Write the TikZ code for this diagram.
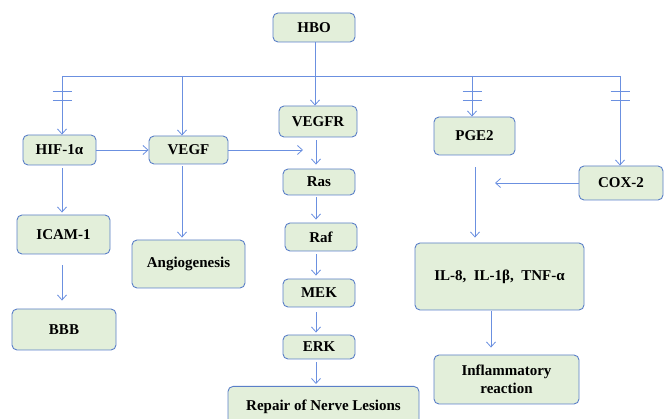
\documentclass[tikz,border=0pt]{standalone}
\usepackage{fontspec}
\setmainfont{Liberation Serif}
\usetikzlibrary{arrows.meta}
\definecolor{boxfill}{HTML}{E3EFDA}
\definecolor{boxdraw}{HTML}{5A7FC8}
\definecolor{linec}{HTML}{6B90E0}
\tikzset{
  box/.style={draw=boxdraw, fill=boxfill, line width=0.9pt, rounded corners=5pt,
    inner sep=0pt, align=center, font=\fontsize{15}{18.5}\selectfont\bfseries},
  conn/.style={draw=linec, line width=0.8pt},
  arr/.style={conn, -{Straight Barb[length=5pt,width=9pt,line width=0.8pt]}},
  bar/.style={draw=linec, line width=0.8pt}
}
\begin{document}
\begin{tikzpicture}[x=1pt,y=-1pt]
\useasboundingbox (0,0) rectangle (664,419);
% nodes
\node[box, minimum width=82pt, minimum height=29pt] (hbo) at (314,27.5) {HBO};
\node[box, minimum width=73pt, minimum height=30pt] (hif) at (59.5,150) {HIF-1α};
\node[box, minimum width=79pt, minimum height=28pt] (vegf) at (188.5,150) {VEGF};
\node[box, minimum width=78pt, minimum height=31pt] (vegfr) at (318,121.5) {VEGFR};
\node[box, minimum width=81pt, minimum height=38pt] (pge) at (474.5,136) {PGE2};
\node[box, minimum width=84pt, minimum height=34pt] (cox) at (621,183) {COX-2};
\node[box, minimum width=72pt, minimum height=26pt] (ras) at (319,182) {Ras};
\node[box, minimum width=93pt, minimum height=39pt] (icam) at (63.5,234.5) {ICAM-1};
\node[box, minimum width=113pt, minimum height=48pt] (angio) at (188.5,264) {Angiogenesis};
\node[box, minimum width=72pt, minimum height=28pt] (raf) at (321,237) {Raf};
\node[box, minimum width=104pt, minimum height=41pt] (bbb) at (64,329.5) {BBB};
\node[box, minimum width=72pt, minimum height=28pt] (mek) at (319,293) {MEK};
\node[box, minimum width=72pt, minimum height=24pt] (erk) at (319,347) {ERK};
\node[box, minimum width=169pt, minimum height=67pt] (il) at (499.5,276.5) {IL-8,\ \ IL-1β,\ \ TNF-α};
\node[box, minimum width=145pt, minimum height=49pt] (infl) at (506.5,379.5) {Inflammatory\\reaction};
\node[box, minimum width=191pt, minimum height=40pt, anchor=north] (rep) at (323.5,386) {Repair of Nerve Lesions};
% junction coordinates
\coordinate (jl) at (62,76);
\coordinate (jv) at (182,76);
\coordinate (jc) at (315,76);
\coordinate (jp) at (472,76);
\coordinate (jr) at (620,76);
\coordinate (vend) at (303,150);
\coordinate (cend) at (495,183);
% trunk
\draw[conn] (hbo.south -| jc) -- (jc);
\draw[conn] (jl) -- (jr);
\draw[arr] (jc) -- (jc |- vegfr.north);
\draw[arr] (jl) -- (jl |- hif.north);
\draw[arr] (jv) -- (jv |- vegf.north);
\draw[arr] (jp) -- (jp |- pge.north);
\draw[arr] (jr) -- (jr |- cox.north);
% inhibition bars
\foreach \xx in {62,472,620}{
  \draw[bar] (\xx-9.5,91) -- (\xx+9.5,91);
  \draw[bar] (\xx-9.5,100) -- (\xx+9.5,100);
}
% horizontal arrows
\draw[arr] (hif.east) -- (vegf.west);
\draw[arr] (vegf.east) -- (vend);
\draw[arr] (cox.west) -- (cend);
% left column
\draw[arr, shorten <=3pt, shorten >=2pt] (hif.south -| jl) -- (jl |- icam.north);
\draw[arr, shorten <=11pt, shorten >=8pt] (icam.south -| jl) -- (jl |- bbb.north);
\draw[arr, shorten <=2pt, shorten >=2pt] (vegf.south -| jv) -- (jv |- angio.north);
% middle column
\coordinate (mc) at (316,0);
\draw[arr, shorten <=3pt, shorten >=4pt] (vegfr.south -| mc) -- (mc |- ras.north);
\draw[arr, shorten <=2pt, shorten >=3pt] (ras.south -| mc) -- (mc |- raf.north);
\draw[arr, shorten <=3pt, shorten >=3pt] (raf.south -| mc) -- (mc |- mek.north);
\draw[arr, shorten <=5pt, shorten >=2pt] (mek.south -| mc) -- (mc |- erk.north);
\draw[arr, shorten <=3pt, shorten >=2pt] (erk.south -| mc) -- (mc |- rep.north);
% right column
\coordinate (pc) at (475,0);
\draw[arr, shorten <=12pt, shorten >=5pt] (pge.south -| pc) -- (pc |- il.north);
\coordinate (ic) at (491,0);
\draw[arr, shorten <=1pt, shorten >=7pt] (il.south -| ic) -- (ic |- infl.north);
\end{tikzpicture}
\end{document}
